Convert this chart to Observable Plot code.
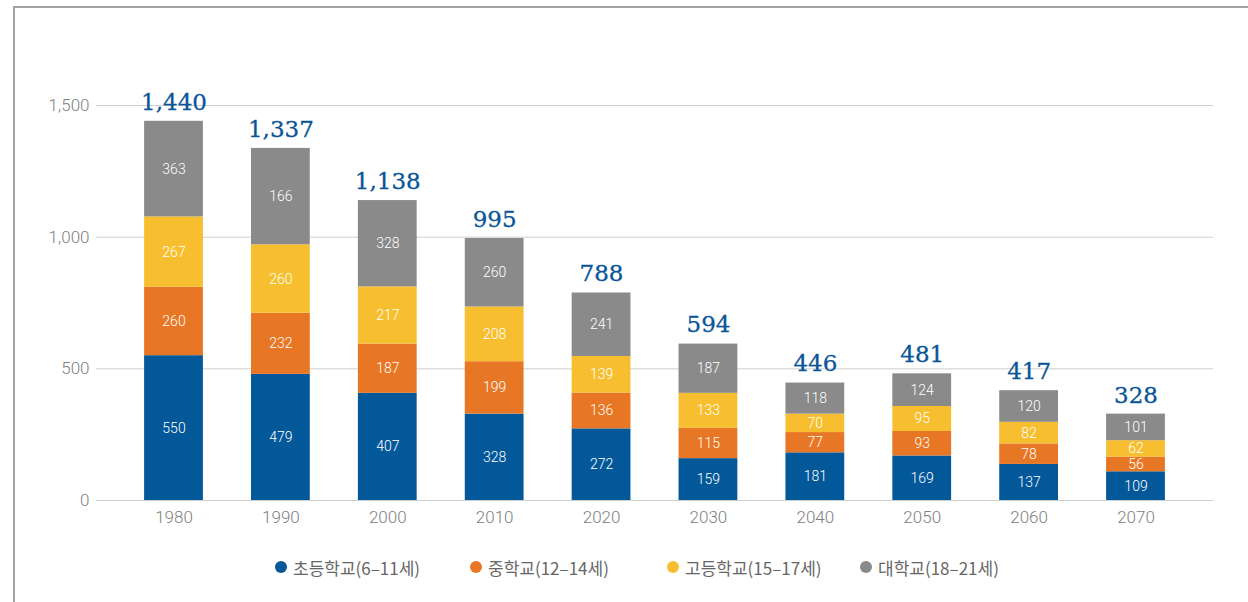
<!DOCTYPE html>
<html>
<head>
<meta charset="utf-8">
<script src="https://cdn.jsdelivr.net/npm/d3@7"></script>
<script src="https://cdn.jsdelivr.net/npm/@observablehq/plot@0.6"></script>
<style>
  html, body { margin: 0; padding: 0; background: #fff; }
  #wrap { position: relative; width: 1248px; height: 602px; overflow: hidden; }
  #frame { position: absolute; left: 13px; top: 6px; right: 0; bottom: 0;
           border-left: 2px solid #a3a3a3; border-top: 2px solid #a3a3a3; pointer-events: none; }
  #chart { position: absolute; left: 0; top: 0; }
  #legend { position: absolute; top: 554px; left: 0; width: 1248px; height: 26px;
            font-family: "Noto Sans CJK KR", Roboto, sans-serif; font-size: 17px; color: #666; }
  .item { position: absolute; display: flex; align-items: center; height: 26px; white-space: nowrap; }
  .dot { width: 12px; height: 12px; border-radius: 50%; margin-right: 6px; }
</style>
</head>
<body>
<div id="wrap">
  <div id="chart"></div>
  <div id="legend"></div>
  <div id="frame"></div>
</div>
<script>
const years = ["1980", "1990", "2000", "2010", "2020", "2030", "2040", "2050", "2060", "2070"];
const categories = ["초등학교(6–11세)", "중학교(12–14세)", "고등학교(15–17세)", "대학교(18–21세)"];
const colors = ["#03589a", "#e77724", "#f7bf2f", "#8a8a8a"];
const elementary = [550, 479, 407, 328, 272, 159, 181, 169, 137, 109];
const middle = [260, 232, 187, 199, 136, 115, 77, 93, 78, 56];
const high = [267, 260, 217, 208, 139, 133, 70, 95, 82, 62];
const college = [363, 366, 328, 260, 241, 187, 118, 124, 120, 101];
// printed segment labels for the college series (the 1990 label reads 166 in the source)
const collegeLabels = [363, 166, 328, 260, 241, 187, 118, 124, 120, 101];
const totals = [1440, 1337, 1138, 995, 788, 594, 446, 481, 417, 328];
const yTicks = [0, 500, 1000, 1500];
const legendLeft = [275, 470, 667, 860];

const series = [elementary, middle, high, college];
const labelSeries = [elementary, middle, high, collegeLabels];
const rows = [];
categories.forEach((c, ci) => {
  years.forEach((yr, i) => {
    rows.push({year: yr, cat: c, value: series[ci][i], label: String(labelSeries[ci][i])});
  });
});
const totalRows = years.map((yr, i) => ({year: yr, total: totals[i]}));
const fmt = d3.format(",");

const plot = Plot.plot({
  width: 1248,
  height: 540,
  marginLeft: 96,
  marginRight: 35,
  marginTop: 105,
  marginBottom: 40,
  style: {fontFamily: "Roboto, 'Noto Sans CJK KR', sans-serif", color: "#808080", background: "transparent"},
  x: {domain: years, padding: 0.45, round: false, label: null},
  y: {domain: [0, 1500], label: null},
  color: {domain: categories, range: colors},
  marks: [
    Plot.gridY(yTicks, {stroke: "#cfcfcf", strokeOpacity: 1, strokeWidth: 1}),
    Plot.axisY({ticks: yTicks, tickSize: 0, tickPadding: 7, tickFormat: fmt, fontSize: 17, fontWeight: 300, label: null}),
    Plot.axisX({tickSize: 0, tickPadding: 10, fontSize: 17, fontWeight: 300, label: null}),
    Plot.barY(rows, {x: "year", y: "value", fill: "cat", order: categories}),
    Plot.text(rows, Plot.stackY({x: "year", y: "value", z: "cat", order: categories, text: "label",
      fill: "#ffffff", fontSize: 14, fontWeight: 300, fontFamily: "Roboto, sans-serif"})),
    Plot.text(totalRows, {x: "year", y: "total", text: d => fmt(d.total), dy: -19,
      fill: "#0a5597", stroke: "#0a5597", strokeWidth: 0.3, fontSize: 23, fontFamily: "'DejaVu Serif', serif"})
  ]
});
document.getElementById("chart").appendChild(plot);

const legend = document.getElementById("legend");
categories.forEach((c, i) => {
  const item = document.createElement("div");
  item.className = "item";
  item.style.left = legendLeft[i] + "px";
  const dot = document.createElement("span");
  dot.className = "dot";
  dot.style.background = colors[i];
  const t = document.createElement("span");
  t.textContent = c;
  item.appendChild(dot);
  item.appendChild(t);
  legend.appendChild(item);
});
</script>
</body>
</html>
